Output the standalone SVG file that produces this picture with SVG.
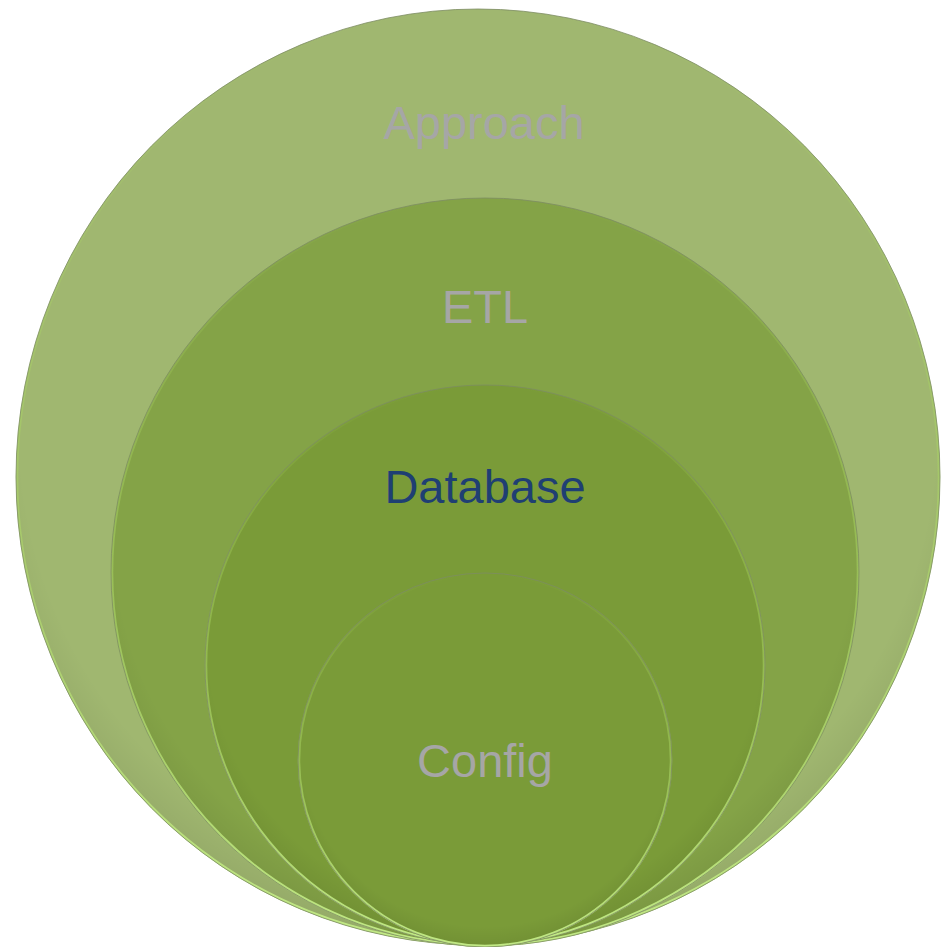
<svg xmlns="http://www.w3.org/2000/svg" width="941" height="947" viewBox="0 0 941 947">
<style>
.lbl{font-family:"Liberation Sans",Arial,sans-serif;font-size:47px;text-anchor:middle}
.gray{fill:#a6a6a6}
.blue{fill:#1f3f73}
.rim{fill:none;stroke-width:2.5}
.edge{fill:none;stroke:#7d8c63;stroke-width:1;stroke-opacity:0.8}
</style>
<defs>
<linearGradient id="rimG" x1="0" y1="0" x2="0" y2="1">
<stop offset="0" stop-color="#a9d463" stop-opacity="0"/>
<stop offset="0.45" stop-color="#a9d463" stop-opacity="0.5"/>
<stop offset="1" stop-color="#c2ea86" stop-opacity="1"/>
</linearGradient>
<radialGradient id="shade" cx="0.5" cy="0.45" r="0.55">
<stop offset="0.9" stop-color="#000" stop-opacity="0"/>
<stop offset="1" stop-color="#000" stop-opacity="0.07"/>
</radialGradient>
</defs>
<rect width="941" height="947" fill="#ffffff"/>
<g id="approach">
<ellipse cx="478" cy="477" rx="462" ry="468" fill="#a0b770"/>
<ellipse cx="478" cy="477" rx="462" ry="468" fill="url(#shade)"/>
<ellipse cx="478" cy="477" rx="461" ry="467" class="rim" stroke="url(#rimG)"/>
<ellipse cx="478" cy="477" rx="462" ry="468" class="edge"/>
<text x="484" y="139" class="lbl gray">Approach</text>
</g>
<g id="etl">
<circle cx="485" cy="572" r="374" fill="#84a347"/>
<circle cx="485" cy="572" r="374" fill="url(#shade)"/>
<circle cx="485" cy="572" r="373" class="rim" stroke="url(#rimG)"/>
<circle cx="485" cy="572" r="374" class="edge"/>
<text x="485" y="323" class="lbl gray">ETL</text>
</g>
<g id="database">
<circle cx="485" cy="665" r="280" fill="#7a9b38"/>
<circle cx="485" cy="665" r="280" fill="url(#shade)"/>
<circle cx="485" cy="665" r="279" class="rim" stroke="url(#rimG)"/>
<circle cx="485" cy="665" r="280" class="edge"/>
<text x="485" y="503" class="lbl blue">Database</text>
</g>
<g id="config">
<circle cx="485" cy="760" r="187" fill="#7a9b38"/>
<circle cx="485" cy="760" r="187" fill="url(#shade)"/>
<circle cx="485" cy="760" r="186" class="rim" stroke="url(#rimG)"/>
<circle cx="485" cy="760" r="187" class="edge"/>
<text x="485" y="777" class="lbl gray">Config</text>
</g>
</svg>
